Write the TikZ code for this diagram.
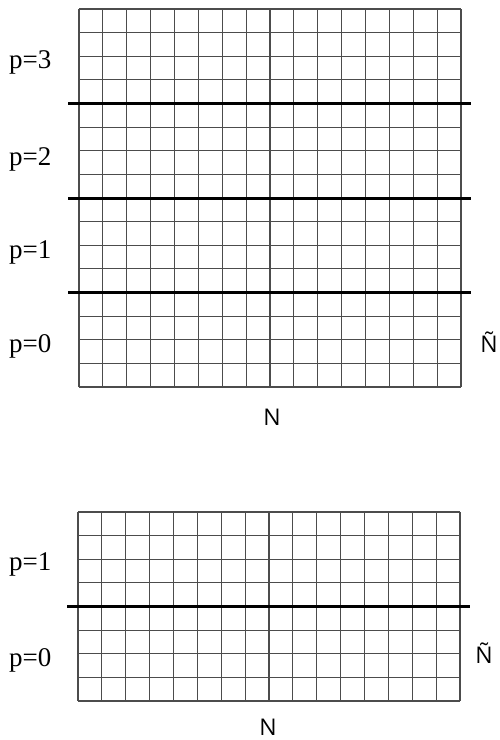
\documentclass[tikz,border=0pt]{standalone}
\usepackage{fontspec}
\usepackage{tikz}
\usetikzlibrary{positioning}
\newfontfamily\plabelfont{Liberation Serif}
\newfontfamily\axisfont{Open Sans}

\begin{document}
\begin{tikzpicture}[
  x=1pt, y=-1pt,
  cell/.style={draw=black!70, line width=1.2pt},
  cut/.style={draw=black, line width=3pt},
  plabel/.style={font=\plabelfont\fontsize{27}{27}\selectfont, anchor=base west, inner sep=0pt},
  axlabel/.style={font=\axisfont\fontsize{23}{23}\selectfont, anchor=base, inner sep=0pt}
]
\useasboundingbox (0,0) rectangle (499,740);

  % Obere Zerlegung: vier Teile
  \foreach \i in {0,...,16}
    \draw[cell] ({79+\i*23.875},9) -- ({79+\i*23.875},387);
  \foreach \j in {0,...,16}
    \draw[cell] (79,{9+\j*23.625}) -- (461,{9+\j*23.625});
  \foreach \j in {4,8,12}
    \draw[cut] (68,{9+\j*23.625}) -- (471,{9+\j*23.625});

  \node[plabel] (top3) at (9,68) {p=3};
  \node[plabel] (top2) at (9,165) {p=2};
  \node[plabel] (top1) at (9,258) {p=1};
  \node[plabel] (top0) at (9,352) {p=0};
  \node[axlabel] (topN) at (272,425) {N};
  \node[axlabel] (topNt) at (489,352) {Ñ};

  % Untere Zerlegung: zwei Teile
  \foreach \i in {0,...,16}
    \draw[cell] ({78+\i*23.875},512) -- ({78+\i*23.875},701);
  \foreach \j in {0,...,8}
    \draw[cell] (78,{512+\j*23.625}) -- (460,{512+\j*23.625});
  \draw[cut] (67,{512+4*23.625}) -- (470,{512+4*23.625});

  \node[plabel] (bot1) at (9,570) {p=1};
  \node[plabel] (bot0) at (9,666) {p=0};
  \node[axlabel] (botN) at (268,735) {N};
  \node[axlabel] (botNt) at (484,663) {Ñ};

\end{tikzpicture}
\end{document}
